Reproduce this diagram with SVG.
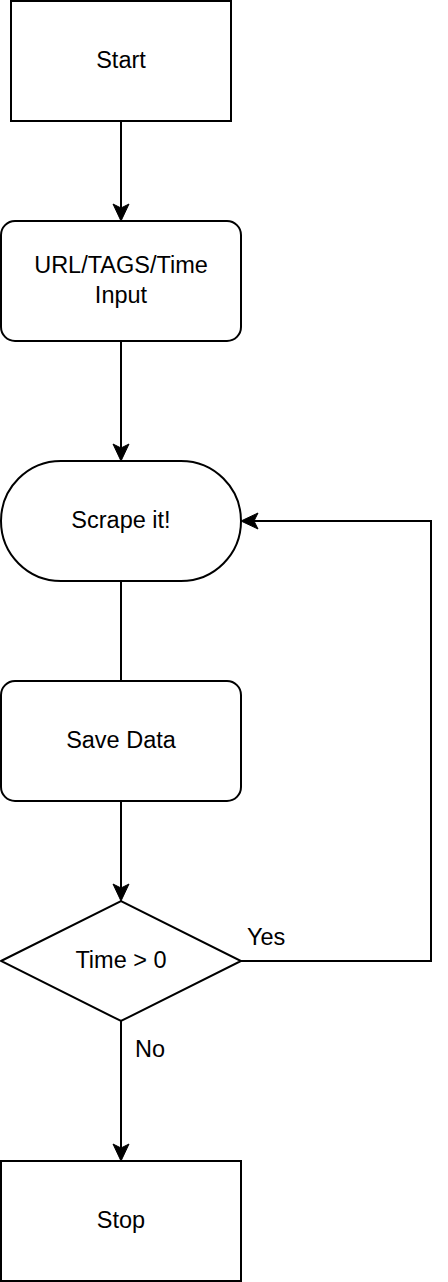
<svg xmlns="http://www.w3.org/2000/svg" width="448" height="1282" viewBox="0 0 448 1282">
<style>
.box{fill:#fff;stroke:#000;stroke-width:2}
.lbl{font-family:"Liberation Sans",Arial,sans-serif;font-size:23.5px;fill:#000;text-anchor:middle}
.elbl{font-family:"Liberation Sans",Arial,sans-serif;font-size:23.5px;fill:#000}
.edge{fill:none;stroke:#000;stroke-width:2}
</style>
<defs>
<marker id="arr" markerUnits="userSpaceOnUse" viewBox="-18 -9 20 18" markerWidth="20" markerHeight="18" refX="-10" refY="0" orient="auto">
<path d="M0,0 L-17,-8 L-13,0 L-17,8 Z" fill="#000" stroke="#000" stroke-width="1"/>
</marker>
</defs>
<rect width="448" height="1282" fill="#fff"/>
<g id="edges">
<path class="edge" d="M121,121 V211" marker-end="url(#arr)"/>
<path class="edge" d="M121,341 V451" marker-end="url(#arr)"/>
<path class="edge" d="M121,581 V681"/>
<path class="edge" d="M121,801 V891" marker-end="url(#arr)"/>
<path class="edge" d="M241,961 H431 V521 H251" marker-end="url(#arr)"/>
<path class="edge" d="M121,1021 V1151" marker-end="url(#arr)"/>
<text class="elbl" x="247" y="945">Yes</text>
<text class="elbl" x="135" y="1057">No</text>
</g>
<g id="start">
<rect class="box" x="11" y="1" width="220" height="120"/>
<text class="lbl" x="121" y="68">Start</text>
</g>
<g id="input">
<rect class="box" x="1" y="221" width="240" height="120" rx="14" ry="14"/>
<text class="lbl" x="121" y="273">URL/TAGS/Time</text>
<text class="lbl" x="121" y="303">Input</text>
</g>
<g id="scrape">
<rect class="box" x="1" y="461" width="240" height="120" rx="60" ry="60"/>
<text class="lbl" x="121" y="528">Scrape it!</text>
</g>
<g id="save">
<rect class="box" x="1" y="681" width="240" height="120" rx="14" ry="14"/>
<text class="lbl" x="121" y="748">Save Data</text>
</g>
<g id="decision">
<polygon class="box" points="1,961 121,901 241,961 121,1021"/>
<text class="lbl" x="121" y="968">Time &gt; 0</text>
</g>
<g id="stop">
<rect class="box" x="1" y="1161" width="240" height="120"/>
<text class="lbl" x="121" y="1228">Stop</text>
</g>
</svg>
